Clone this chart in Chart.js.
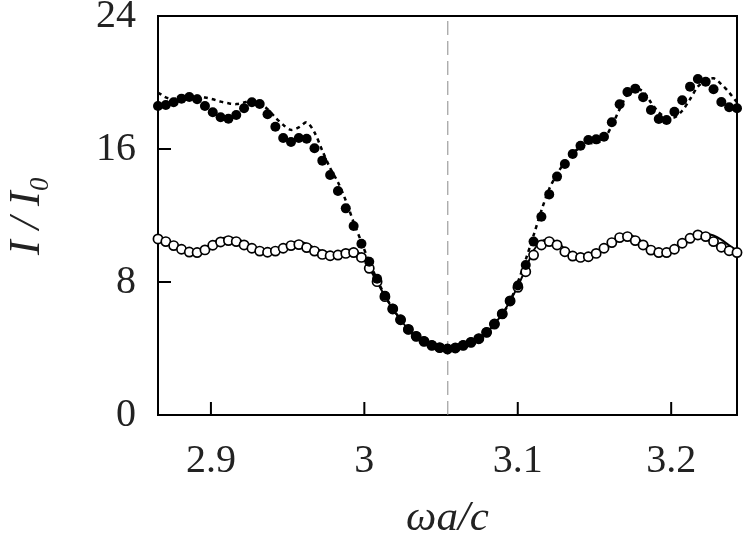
<!DOCTYPE html>
<html>
<head>
<meta charset="utf-8">
<script src="https://cdn.jsdelivr.net/npm/chart.js@4/dist/chart.umd.min.js"></script>
<style>
  body { margin: 0; background: #fff; }
  #wrap { width: 747px; height: 552px; }
</style>
</head>
<body>
<div id="wrap"><canvas id="chart"></canvas></div>
<script>
// frequency samples (omega a / c)
const freq = [
  2.8655, 2.8706, 2.8757, 2.8808, 2.8859, 2.8910, 2.8961, 2.9012, 2.9063, 2.9114,
  2.9165, 2.9216, 2.9267, 2.9318, 2.9369, 2.9420, 2.9471, 2.9522, 2.9573, 2.9624,
  2.9675, 2.9726, 2.9777, 2.9828, 2.9879, 2.9930, 2.9981, 3.0032, 3.0083, 3.0134,
  3.0185, 3.0236, 3.0287, 3.0338, 3.0389, 3.0440, 3.0491, 3.0542, 3.0593, 3.0644,
  3.0695, 3.0746, 3.0797, 3.0848, 3.0899, 3.0950, 3.1001, 3.1052, 3.1103, 3.1154,
  3.1205, 3.1256, 3.1307, 3.1358, 3.1409, 3.1460, 3.1511, 3.1562, 3.1613, 3.1664,
  3.1715, 3.1766, 3.1817, 3.1868, 3.1919, 3.1970, 3.2021, 3.2072, 3.2123, 3.2174,
  3.2225, 3.2276, 3.2327, 3.2378, 3.2429
];

// filled circles
const filledPts = [
  18.59, 18.65, 18.81, 19.03, 19.13, 18.99, 18.59, 18.21, 17.91, 17.82,
  18.05, 18.45, 18.81, 18.71, 18.09, 17.34, 16.66, 16.42, 16.66, 16.62,
  16.04, 15.30, 14.44, 13.47, 12.43, 11.37, 10.30, 9.22, 8.20, 7.18,
  6.39, 5.73, 5.15, 4.73, 4.43, 4.19, 4.05, 3.97, 4.03, 4.19,
  4.37, 4.59, 4.97, 5.47, 6.08, 6.86, 7.79, 9.02, 10.43, 11.93,
  13.27, 14.34, 15.10, 15.70, 16.20, 16.54, 16.58, 16.74, 17.61, 18.69,
  19.43, 19.63, 19.11, 18.35, 17.80, 17.74, 18.24, 18.93, 19.75, 20.21,
  20.05, 19.59, 18.83, 18.51, 18.45
];

// dashed curve through the filled circles
const filledFit = [
  19.4, 19.1, 19.0, 19.1, 19.15, 19.2, 19.1, 18.99, 18.85, 18.75,
  18.7, 18.8, 18.87, 18.75, 18.4, 17.9, 17.45, 17.15, 17.3, 17.6,
  17.0, 15.9, 14.85, 14.0, 12.9, 11.6, 10.4, 9.2, 8.15, 7.2,
  6.4, 5.75, 5.15, 4.72, 4.42, 4.2, 4.05, 3.98, 4.02, 4.17,
  4.37, 4.6, 4.97, 5.45, 6.05, 6.85, 8.0, 9.35, 10.8, 12.3,
  13.6, 14.5, 15.2, 15.75, 16.1, 16.35, 16.35, 16.6, 17.4, 18.4,
  19.3, 19.65, 19.45, 18.8, 18.2, 17.9, 17.9, 18.3, 19.0, 19.75,
  20.1, 20.25, 19.9, 19.4, 18.8
];

// open circles
const openPts = [
  10.59, 10.43, 10.19, 9.97, 9.80, 9.77, 9.93, 10.21, 10.41, 10.49,
  10.43, 10.23, 10.03, 9.86, 9.79, 9.86, 10.03, 10.19, 10.25, 10.07,
  9.86, 9.66, 9.58, 9.62, 9.72, 9.77, 9.48, 8.82, 8.02, 7.12,
  6.38, 5.73, 5.15, 4.73, 4.43, 4.19, 4.05, 3.97, 4.03, 4.19,
  4.37, 4.59, 4.97, 5.47, 6.08, 6.86, 7.68, 8.62, 9.62, 10.23,
  10.43, 10.23, 9.82, 9.56, 9.48, 9.52, 9.72, 10.03, 10.37, 10.67,
  10.73, 10.49, 10.23, 9.92, 9.77, 9.77, 9.97, 10.33, 10.63, 10.83,
  10.73, 10.43, 10.09, 9.88, 9.77
];

// solid curve through the open circles
const openFit = [
  10.75, 10.5, 10.25, 10.0, 9.85, 9.85, 10.05, 10.35, 10.6, 10.68,
  10.6, 10.4, 10.15, 9.95, 9.88, 9.95, 10.15, 10.35, 10.42, 10.3,
  10.05, 9.85, 9.75, 9.78, 9.9, 9.95, 9.6, 8.85, 8.0, 7.15,
  6.38, 5.73, 5.15, 4.73, 4.43, 4.19, 4.05, 3.97, 4.03, 4.19,
  4.37, 4.59, 4.97, 5.47, 6.08, 6.86, 7.75, 8.8, 9.9, 10.45,
  10.55, 10.4, 10.0, 9.7, 9.6, 9.62, 9.8, 10.1, 10.45, 10.75,
  10.85, 10.7, 10.4, 10.1, 9.92, 9.9, 10.05, 10.35, 10.65, 10.88,
  10.92, 10.8, 10.55, 10.2, 9.9
];

const centerFreq = 3.0544;
const xTicks = [2.9, 3, 3.1, 3.2];
const yTicks = [0, 8, 16, 24];
const xRange = [2.8655, 3.2429];
const yRange = [0, 24];

const toXY = vals => vals.map((v, i) => ({ x: freq[i], y: v }));

// box around the plot plus inward ticks
const frame = {
    id: 'frame',
    beforeDatasetsDraw(chart) {
        const { ctx, chartArea: a, scales: { x, y } } = chart;
        ctx.save();
        ctx.strokeStyle = '#000';
        ctx.lineWidth = 2;
        ctx.beginPath();
        xTicks.forEach(v => {
            const px = x.getPixelForValue(v);
            ctx.moveTo(px, a.bottom);
            ctx.lineTo(px, a.bottom - 13);
        });
        yTicks.slice(1, -1).forEach(v => {
            const py = y.getPixelForValue(v);
            ctx.moveTo(a.left, py);
            ctx.lineTo(a.left + 13, py);
        });
        ctx.stroke();
        ctx.strokeRect(a.left, a.top, a.right - a.left, a.bottom - a.top);
        ctx.restore();
    }
};

const serif = "'Liberation Serif', 'DejaVu Serif', serif";

new Chart(document.getElementById('chart'), {
    type: 'line',
    data: {
        datasets: [
            {
                data: toXY(filledPts),
                showLine: false,
                pointRadius: 5,
                pointBackgroundColor: '#000',
                pointBorderWidth: 0,
                clip: false,
                order: 0
            },
            {
                data: toXY(openPts),
                showLine: false,
                pointRadius: 4.6,
                pointBackgroundColor: '#fff',
                pointBorderColor: '#000',
                pointBorderWidth: 1.7,
                clip: false,
                order: 1
            },
            {
                data: toXY(filledFit),
                borderColor: '#000',
                borderWidth: 2.5,
                borderDash: [4, 4],
                pointRadius: 0,
                tension: 0.3,
                order: 2
            },
            {
                data: toXY(openFit),
                borderColor: '#000',
                borderWidth: 2,
                pointRadius: 0,
                tension: 0.3,
                order: 3
            },
            {
                data: [{ x: centerFreq, y: yRange[0] }, { x: centerFreq, y: yRange[1] }],
                borderColor: '#8a8a8a',
                borderWidth: 1,
                borderDash: [14, 6],
                pointRadius: 0,
                order: 4
            }
        ]
    },
    options: {
        responsive: true,
        maintainAspectRatio: false,
        animation: false,
        layout: { padding: { top: 16, right: 10, left: 0, bottom: 0 } },
        plugins: { legend: { display: false }, tooltip: { enabled: false } },
        scales: {
            x: {
                type: 'linear',
                min: xRange[0],
                max: xRange[1],
                afterBuildTicks: s => { s.ticks = xTicks.map(v => ({ value: v })); },
                afterFit: s => { s.height = 137; s.paddingLeft = 0; s.paddingRight = 0; },
                grid: { display: false, drawTicks: false },
                border: { display: false },
                ticks: {
                    color: '#222',
                    font: { family: serif, size: 40 },
                    padding: 22,
                    maxRotation: 0,
                    callback: v => String(v)
                },
                title: {
                    display: true,
                    text: 'ωa/c',
                    color: '#222',
                    font: { family: serif, size: 43, style: 'italic' },
                    padding: { top: 0, bottom: 7 }
                }
            },
            y: {
                min: yRange[0],
                max: yRange[1],
                afterBuildTicks: s => { s.ticks = yTicks.map(v => ({ value: v })); },
                afterFit: s => { s.width = 158; s.paddingTop = 0; s.paddingBottom = 0; },
                grid: { display: false, drawTicks: false },
                border: { display: false },
                ticks: {
                    color: '#222',
                    font: { family: serif, size: 40 },
                    padding: 22
                },
                title: {
                    display: true,
                    text: 'I / I₀',
                    color: '#222',
                    font: { family: serif, size: 44, style: 'italic' },
                    padding: { top: 1, bottom: 0 }
                }
            }
        }
    },
    plugins: [frame]
});
</script>
</body>
</html>
